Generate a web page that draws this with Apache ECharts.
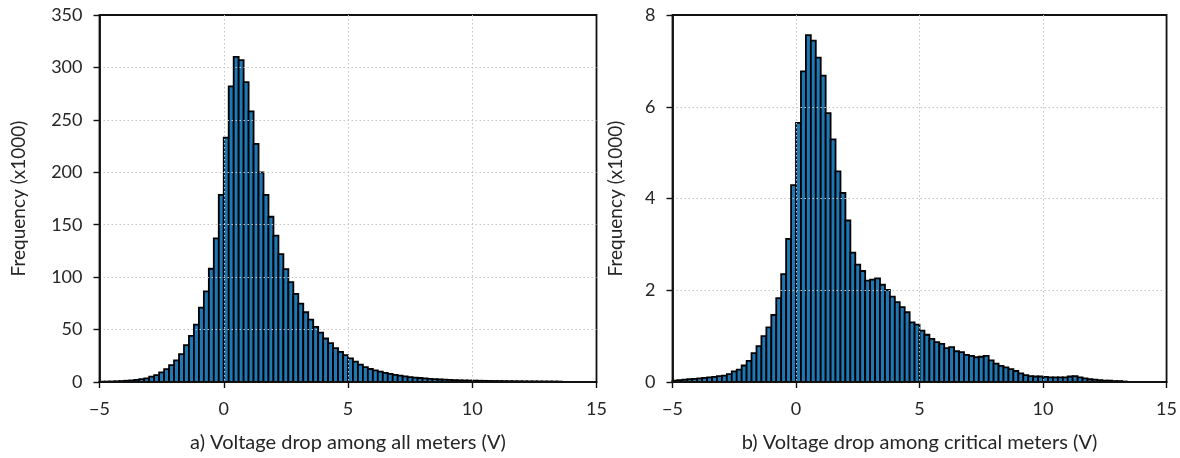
<!DOCTYPE html>
<html><head><meta charset="utf-8">
<script src="https://cdn.jsdelivr.net/npm/echarts@6/dist/echarts.min.js"></script>
<style>html,body{margin:0;padding:0;background:#fff}#c{width:1180px;height:458px}</style>
</head><body><div id="c"></div>
<script>
// Histogram bins: start at -5 V, width 0.2 V (100 bins up to 15 V)
const binStart = -5;
const binWidth = 0.2;

// a) all meters, frequency in thousands
const allMeters = [
  0.3, 0.4, 0.5, 0.7, 0.9, 1.2, 1.5, 2.0, 2.7, 3.5,
  5.1, 6.6, 9.2, 12.3, 16.1, 20.6, 26.6, 35.1, 44, 54.8,
  70.9, 86.4, 108, 137, 178.5, 233, 282, 310, 307, 286,
  258, 227, 200, 178.5, 157.6, 139.6, 122, 107.6, 95.3, 84,
  74.7, 66.5, 59.5, 52.6, 47, 41.5, 37, 32.3, 28.8, 25.6,
  22.5, 19.5, 16.5, 14.2, 12.4, 11.0, 9.8, 8.7, 7.7, 6.8,
  6.0, 5.3, 4.7, 4.2, 3.8, 3.4, 3.0, 2.7, 2.4, 2.2,
  2.0, 1.8, 1.6, 1.5, 1.4, 1.3, 1.2, 1.1, 1.0, 0.95,
  0.9, 0.85, 0.8, 0.75, 0.7, 0.65, 0.6, 0.6, 0.55, 0.5,
  0.5, 0.45, 0.4, 0, 0, 0, 0, 0, 0, 0
];

// b) critical meters, frequency in thousands
const criticalMeters = [
  0.03, 0.04, 0.05, 0.06, 0.07, 0.08, 0.09, 0.10, 0.11, 0.13,
  0.14, 0.17, 0.23, 0.27, 0.36, 0.46, 0.63, 0.78, 1.0, 1.19,
  1.46, 1.83, 2.35, 3.12, 4.29, 5.65, 6.77, 7.56, 7.44, 7.07,
  6.68, 5.86, 5.29, 4.59, 4.12, 3.52, 2.82, 2.56, 2.42, 2.21,
  2.23, 2.26, 2.12, 2.01, 1.86, 1.74, 1.63, 1.52, 1.30, 1.25,
  1.12, 1.03, 0.94, 0.87, 0.83, 0.74, 0.76, 0.67, 0.65, 0.59,
  0.57, 0.54, 0.55, 0.57, 0.47, 0.40, 0.35, 0.32, 0.28, 0.24,
  0.19, 0.15, 0.13, 0.12, 0.12, 0.11, 0.10, 0.10, 0.10, 0.10,
  0.12, 0.13, 0.10, 0.08, 0.06, 0.05, 0.04, 0.03, 0.03, 0.02,
  0.02, 0.01, 0, 0, 0, 0, 0, 0, 0, 0
];

const xMin = -5, xMax = 15, xStep = 5;
const yLeftMax = 350, yLeftStep = 50;
const yRightMax = 8, yRightStep = 2;
const xTitles = ['a) Voltage drop among all meters (V)', 'b) Voltage drop among critical meters (V)'];
const yTitle = 'Frequency (x1000)';

const FONT = 'Lato';
const TXT = '#262626';

function toBins(vals) {
  return vals.map((v, i) => {
    const x0 = +(binStart + i * binWidth).toFixed(4);
    return [x0, +(x0 + binWidth).toFixed(4), v];
  });
}

function renderBar(params, api) {
  const v = api.value(2);
  if (!v) return null;
  const p0 = api.coord([api.value(0), v]);
  const p1 = api.coord([api.value(1), 0]);
  return {
    type: 'rect',
    shape: { x: p0[0], y: p0[1], width: p1[0] - p0[0], height: p1[1] - p0[1] },
    style: { fill: '#1f77b4', stroke: '#000', lineWidth: 1.8 }
  };
}

const minus = v => String(v).replace('-', '\u2212');
const gridLine = { show: true, showMinLine: false, showMaxLine: false, lineStyle: { color: '#c4c4c4', type: [1.5, 2.5], width: 1 } };
const axisDark = { color: '#111', width: 1.8 };

function xAxisCfg(idx) {
  return {
    type: 'value', gridIndex: idx, min: xMin, max: xMax, interval: xStep, z: 3,
    name: xTitles[idx], nameLocation: 'middle', nameGap: 51,
    nameTextStyle: { fontFamily: FONT, fontSize: 20, color: TXT },
    axisLine: { show: true, onZero: false, lineStyle: axisDark },
    axisTick: { show: true, inside: false, length: 6, lineStyle: { color: '#111', width: 1.4 } },
    axisLabel: { formatter: minus, fontFamily: FONT, fontSize: 18, color: TXT, margin: 18 },
    splitLine: gridLine
  };
}
function yAxisCfg(idx, max, step, gap) {
  return {
    type: 'value', gridIndex: idx, min: 0, max: max, interval: step, z: 3,
    name: yTitle, nameLocation: 'middle', nameGap: gap, nameRotate: 90,
    nameTextStyle: { fontFamily: FONT, fontSize: 19, color: TXT },
    axisLine: { show: true, onZero: false, lineStyle: axisDark },
    axisTick: { show: true, inside: false, length: 6, lineStyle: { color: '#111', width: 1.4 } },
    axisLabel: { fontFamily: FONT, fontSize: 18, color: TXT, margin: 17 },
    splitLine: gridLine
  };
}

const chart = echarts.init(document.getElementById('c'), null, { renderer: 'canvas' });
chart.setOption({
  animation: false,
  backgroundColor: '#fff',
  grid: [
    { left: 99.5, top: 15, width: 497, height: 369, show: true, borderColor: '#111', borderWidth: 1.8, backgroundColor: 'transparent' },
    { left: 672.5, top: 15, width: 497.5, height: 369, show: true, borderColor: '#111', borderWidth: 1.8, backgroundColor: 'transparent' }
  ],
  xAxis: [xAxisCfg(0), xAxisCfg(1)],
  yAxis: [yAxisCfg(0, yLeftMax, yLeftStep, 71), yAxisCfg(1, yRightMax, yRightStep, 47)],
  series: [
    { type: 'custom', xAxisIndex: 0, yAxisIndex: 0, renderItem: renderBar, encode: { x: [0, 1], y: 2 }, data: toBins(allMeters), z: 2 },
    { type: 'custom', xAxisIndex: 1, yAxisIndex: 1, renderItem: renderBar, encode: { x: [0, 1], y: 2 }, data: toBins(criticalMeters), z: 2 }
  ]
});
</script></body></html>
